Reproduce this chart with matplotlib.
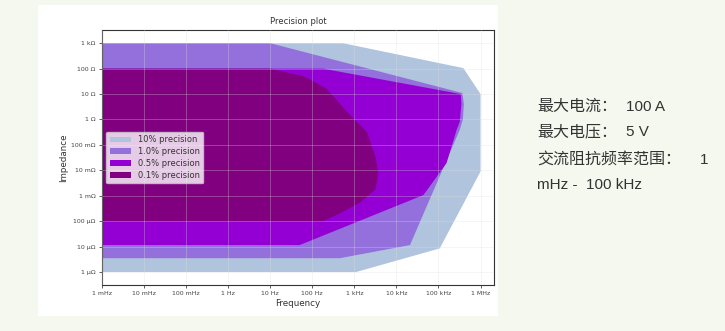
import matplotlib
matplotlib.use("Agg")
import matplotlib.pyplot as plt
from matplotlib.patches import Rectangle

# --- data: region outlines (frequency in Hz, impedance in ohm) ---
labels = ["10% precision", "1.0% precision", "0.5% precision", "0.1% precision"]
colors = ["#b0c4de", "#9370db", "#9400d3", "#800080"]

f_10 = [1e-3, 540, 3.9e5, 1e6, 1e6, 1.07e5, 1.1e3, 1e-3]
z_10 = [1e3, 1e3, 105, 10, 9e-3, 8.5e-6, 1e-6, 1e-6]

f_1 = [1e-3, 10, 3.7e5, 4e5, 3.8e5, 3.2e5, 2.1e4, 4.5e2, 1e-3]
z_1 = [1e3, 1e3, 11, 4, 1, 0.39, 1.15e-5, 3.5e-6, 3.5e-6]

f_05 = [1e-3, 180, 3.4e5, 3.5e5, 3.2e5, 2.7e5, 1.55e5, 4.4e4, 50, 1e-3]
z_05 = [100, 100, 10, 4, 0.8, 0.39, 0.019, 1.07e-3, 1.15e-5, 1.15e-5]

f_01 = [1e-3, 10, 63, 224, 630, 2000, 3200, 3700, 3200, 1400, 500, 180, 1e-3]
z_01 = [100, 100, 50, 15.8, 2.24, 0.32, 0.032, 7.9e-3, 1.8e-3, 5.6e-4, 2.2e-4, 1e-4, 1e-4]

x_ticks = [1e-3, 1e-2, 1e-1, 1, 10, 100, 1e3, 1e4, 1e5, 1e6]
x_labels = ["1 mHz", "10 mHz", "100 mHz", "1 Hz", "10 Hz", "100 Hz",
            "1 kHz", "10 kHz", "100 kHz", "1 MHz"]
y_ticks = [1e-6, 1e-5, 1e-4, 1e-3, 1e-2, 1e-1, 1, 10, 100, 1e3]
y_labels = ["1 µΩ", "10 µΩ", "100 µΩ", "1 mΩ", "10 mΩ", "100 mΩ",
            "1 Ω", "10 Ω", "100 Ω", "1 kΩ"]

# side notes: (label, value) per line
side_keys = ["最大电流：", "最大电压：", "交流阻抗频率范围：", ""]
side_vals = ["100 A", "5 V", "1", "mHz -  100 kHz"]

# --- figure ---
fig = plt.figure(figsize=(7.25, 3.31), dpi=100)
fig.patch.set_facecolor("#f4f8ee")
fig.patches.append(Rectangle((38 / 725, 1 - 316 / 331), 460 / 725, 311 / 331,
                             transform=fig.transFigure, facecolor="white",
                             edgecolor="none", zorder=-1))

ax = fig.add_axes([102 / 725, 1 - 285 / 331, 392 / 725, 255 / 331])
ax.set_zorder(2)
ax.set_xscale("log")
ax.set_yscale("log")

regions = [(f_10, z_10), (f_1, z_1), (f_05, z_05), (f_01, z_01)]
for (f, z), c, lab in zip(regions, colors, labels):
    ax.fill(f, z, color=c, label=lab, linewidth=0)

ax.set_xlim(1e-3, 10 ** 6.32)
ax.set_ylim(10 ** -6.51, 10 ** 3.52)
ax.set_xticks(x_ticks)
ax.set_xticklabels(x_labels)
ax.set_yticks(y_ticks)
ax.set_yticklabels(y_labels)
ax.minorticks_off()
ax.tick_params(labelsize=4.5, length=2.5, width=0.6, pad=2, colors="#444444")

ax.set_axisbelow(False)
ax.grid(True, color="#dddddd", alpha=0.35, linewidth=0.6)
for s in ax.spines.values():
    s.set_color("#333333")
    s.set_linewidth(0.8)

ax.set_title("Precision plot", fontsize=6, color="#333333", pad=4)
ax.set_xlabel("Frequency", fontsize=6.3, color="#333333", labelpad=2)
ax.set_ylabel("Impedance", fontsize=6.3, color="#333333", labelpad=2)

leg = ax.legend(loc="center left", fontsize=6, handlelength=2.6, handleheight=0.6,
                borderaxespad=0.5, labelspacing=0.35, framealpha=0.8)
for t in leg.get_texts():
    t.set_color("#333333")

# --- side text ---
ys = [111, 136, 164, 189]
val_x = [626, 626, 700, 537]
for key, val, y, vx in zip(side_keys, side_vals, ys, val_x):
    if key:
        fig.text(537 / 725, 1 - y / 331, key, fontsize=11.5, color="#333333",
                 va="baseline", family=["Noto Sans CJK SC", "DejaVu Sans"])
    fig.text(vx / 725, 1 - y / 331, val, fontsize=11, color="#333333", va="baseline",
             family=["Liberation Sans", "DejaVu Sans"])

fig.savefig("out.png", dpi=100, facecolor=fig.get_facecolor())
